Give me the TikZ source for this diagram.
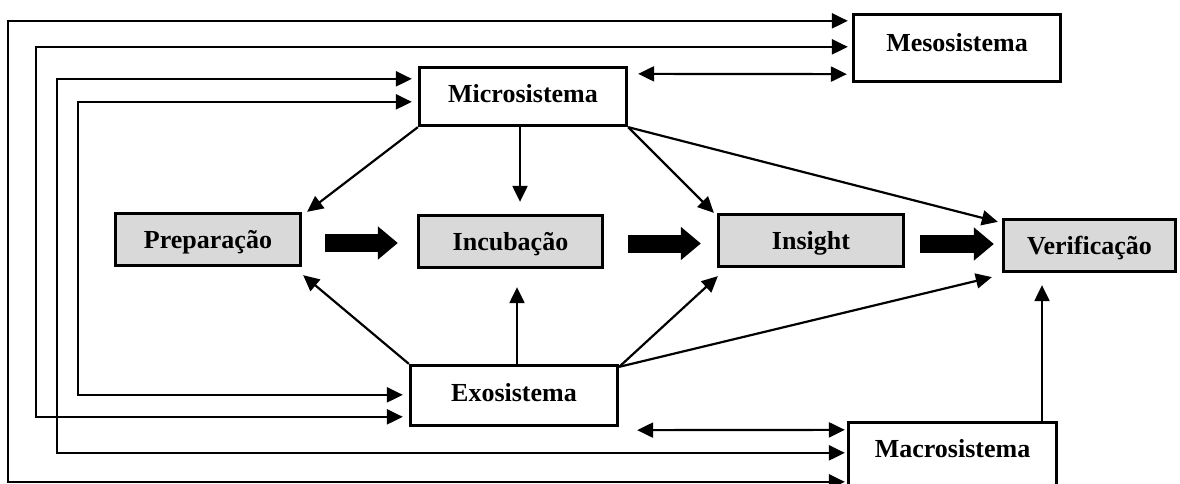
\documentclass[tikz,border=0pt]{standalone}
\usepackage{fontspec}
\setmainfont{Liberation Serif}
\usetikzlibrary{arrows.meta,calc}
\definecolor{stagefill}{HTML}{D9D9D9}
\begin{document}
\begin{tikzpicture}[x=1pt,y=-1pt,
  sysbox/.style={draw, line width=3.3pt, inner sep=0pt,
    font=\fontsize{26}{30}\selectfont\bfseries, text height=17.2pt, text depth=0pt},
  stagebox/.style={sysbox, fill=stagefill},
  conn/.style={line width=2.2pt, -{Triangle[length=16pt,width=15pt]}},
  twoway/.style={line width=2.2pt, {Triangle[length=16pt,width=15pt]}-{Triangle[length=16pt,width=15pt]}},
  bigarrow/.style={line width=18pt, -{Triangle[length=20pt,width=32pt]}}]
\useasboundingbox (0,0) rectangle (1180,484);

% systems
\node[sysbox, minimum width=207pt, minimum height=67pt, text depth=11pt] (meso) at (957,48) {Mesosistema};
\node[sysbox, minimum width=207pt, minimum height=58pt, text depth=5pt] (micro) at (523,96.5) {Microsistema};
\node[sysbox, minimum width=207pt, minimum height=60pt, text depth=5pt] (exo) at (514,395.5) {Exosistema};
\node[sysbox, minimum width=208pt, minimum height=67pt, text depth=14pt] (macro) at (952.5,456) {Macrosistema};

% stages
\node[stagebox, minimum width=185pt, minimum height=52pt] (prep) at (208,239.5) {Preparação};
\node[stagebox, minimum width=184pt, minimum height=52pt] (incub) at (510.5,241.5) {Incubação};
\node[stagebox, minimum width=185pt, minimum height=52pt] (insight) at (811,240.5) {Insight};
\node[stagebox, minimum width=172pt, minimum height=52pt] (verif) at (1089.5,245.5) {Verificação};

% sequence of stages
\draw[bigarrow] ([shift={(23,3.5)}]prep.east) -- ([shift={(-19,1.5)}]incub.west);
\draw[bigarrow] ([shift={(24,2)}]incub.east) -- ([shift={(-16,3)}]insight.west);
\draw[bigarrow] ([shift={(15,3.5)}]insight.east) -- ([shift={(-8,-1.5)}]verif.west);

% influences of the microsystem
\draw[conn] (micro.south west) -- ([shift={(5,0)}]prep.north east);
\draw[conn] ([xshift=-3pt]micro.south) -- ([shift={(9.5,-12)}]incub.north);
\draw[conn] (micro.south east) -- ([shift={(-3,0)}]insight.north west);
\draw[conn] (micro.south east) -- ([shift={(-4,4)}]verif.north west);

% influences of the exosystem
\draw[conn] (exo.north west) -- ([shift={(1,8)}]prep.south east);
\draw[conn] ([xshift=3pt]exo.north) -- ([shift={(6.5,18)}]incub.south);
\draw[conn] ([shift={(0,3)}]exo.north east) -- ([shift={(1,8)}]insight.south west);
\draw[conn] ([shift={(0,3)}]exo.north east) -- ([shift={(-10,4)}]verif.south west);

% macrosystem to verification
\draw[conn] ([xshift=89.5pt]macro.north) -- ([shift={(-47.5,12)}]verif.south);

% two-way links
\draw[twoway] ([shift={(10,8)}]micro.north east) -- ([shift={(-5,-9)}]meso.south west);
\draw[twoway] ([shift={(18,3)}]exo.south east) -- ([shift={(-2,9)}]macro.north west);

% outer feedback loops
\coordinate (railA) at (8,0);
\coordinate (railB) at (36,0);
\coordinate (railC) at (57,0);
\coordinate (railD) at (78,0);
\coordinate (mesoA) at ([shift={(-4,8)}]meso.north west);
\coordinate (mesoB) at ([shift={(-4,34)}]meso.north west);
\coordinate (microC) at ([shift={(-6,13)}]micro.north west);
\coordinate (microD) at ([shift={(-6,36)}]micro.north west);
\coordinate (exoD) at ([shift={(-6,31)}]exo.north west);
\coordinate (exoB) at ([shift={(-6,53)}]exo.north west);
\coordinate (macroC) at ([shift={(-2,32)}]macro.north west);
\coordinate (macroA) at ([shift={(-2,61)}]macro.north west);

\draw[twoway] (mesoA) -- (mesoA -| railA) -- (macroA -| railA) -- (macroA);
\draw[twoway] (mesoB) -- (mesoB -| railB) -- (exoB -| railB) -- (exoB);
\draw[twoway] (microC) -- (microC -| railC) -- (macroC -| railC) -- (macroC);
\draw[twoway] (microD) -- (microD -| railD) -- (exoD -| railD) -- (exoD);
\end{tikzpicture}
\end{document}
